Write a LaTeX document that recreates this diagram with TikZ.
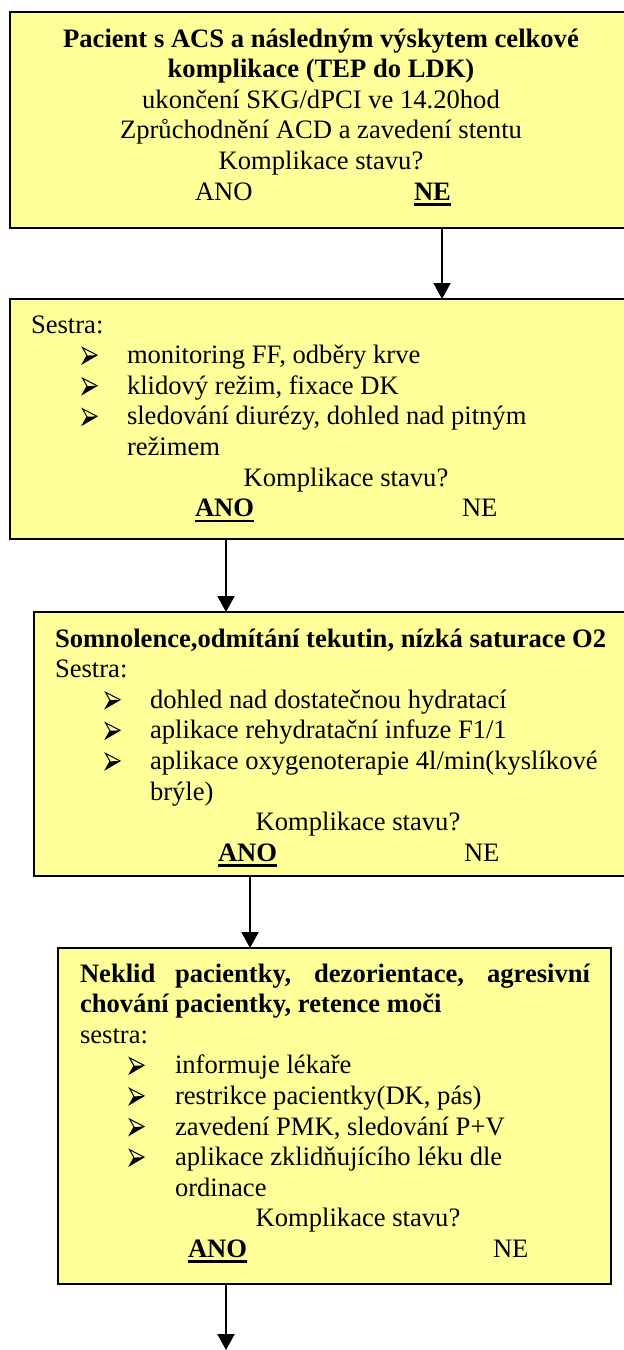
\documentclass[tikz,border=0pt]{standalone}
\usepackage{fontspec}
\setmainfont{Liberation Serif}
\usetikzlibrary{arrows.meta}

\definecolor{boxfill}{HTML}{FFFF99}

\newsavebox\ulbox
\newcommand\ulbold[1]{\sbox\ulbox{\bfseries #1}\rlap{\rule[-5.5pt]{\wd\ulbox}{2.6pt}}\usebox\ulbox}

\tikzset{
  flowbox/.style={draw=black, line width=2pt, fill=boxfill, rectangle,
    inner sep=0pt, outer sep=0pt},
  txt/.style={inner sep=0pt, outer sep=0pt, font=\fontsize{26.6}{30.6}\selectfont},
  lt/.style={txt, anchor=base west},
  ct/.style={txt, anchor=base},
  flowarrow/.style={line width=2pt, -{Triangle[width=17pt,length=16pt]}},
  % three-dimensional arrowhead bullet, placed at the left end of the baseline
  bulletmark/.pic={
    \fill[black] (5,-8) -- (15,-8.5) -- (0.5,0) -- cycle;
    \draw[black, line width=1pt, line join=miter] (0.5,-16) -- (15,-8.5) -- (0.5,0) -- (5,-8) -- cycle;
  }
}

\begin{document}
\begin{tikzpicture}[x=1pt, y=-1pt]
\useasboundingbox (0,0) rectangle (624,1350);
\clip (0,0) rectangle (624,1350);

% boxes
\node[flowbox, minimum width=630pt, minimum height=216pt] (b1) at (325,120) {};
\node[flowbox, minimum width=630pt, minimum height=240pt] (b2) at (325,419) {};
\node[flowbox, minimum width=606pt, minimum height=264pt] (b3) at (337,744) {};
\node[flowbox, minimum width=553pt, minimum height=336pt] (b4) at (334.5,1116) {};

% box 1
\node[ct] (t11) at (321,47) {\bfseries Pacient s ACS a následným výskytem celkové};
\node[ct] (t12) at (321,77.6) {\bfseries komplikace (TEP do LDK)};
\node[ct] (t13) at (321,108.2) {ukončení SKG/dPCI ve 14.20hod};
\node[ct] (t14) at (321,138.8) {Zprůchodnění ACD a zavedení stentu};
\node[ct] (t15) at (321,169.4) {Komplikace stavu?};
\node[lt] (t16) at (195,200) {ANO};
\node[lt] (t17) at (414,200) {\ulbold{NE}};

% box 2
\node[lt] (t21) at (31,333) {Sestra:};
\pic (p21) at (82,363.6) {bulletmark};
\node[lt] (t22) at (127,363.6) {monitoring FF, odběry krve};
\pic (p22) at (82,394.2) {bulletmark};
\node[lt] (t23) at (127,394.2) {klidový režim, fixace DK};
\pic (p23) at (82,424.8) {bulletmark};
\node[lt] (t24) at (127,424.8) {sledování diurézy, dohled nad pitným};
\node[lt] (t25) at (127,455.4) {režimem};
\node[ct] (t26) at (346,486) {Komplikace stavu?};
\node[lt] (t27) at (195,516.6) {\ulbold{ANO}};
\node[lt] (t28) at (462,516.6) {NE};

% box 3
\node[lt] (t31) at (55,647) {\bfseries Somnolence,odmítání tekutin, nízká saturace O2};
\node[lt] (t32) at (55,677.6) {Sestra:};
\pic (p31) at (105,708.2) {bulletmark};
\node[lt] (t33) at (150,708.2) {dohled nad dostatečnou hydratací};
\pic (p32) at (105,738.8) {bulletmark};
\node[lt] (t34) at (150,738.8) {aplikace rehydratační infuze F1/1};
\pic (p33) at (105,769.4) {bulletmark};
\node[lt] (t35) at (150,769.4) {aplikace oxygenoterapie 4l/min(kyslíkové};
\node[lt] (t36) at (150,800) {brýle)};
\node[ct] (t37) at (358,830.6) {Komplikace stavu?};
\node[lt] (t38) at (218,861.2) {\ulbold{ANO}};
\node[lt] (t39) at (464,861.2) {NE};

% box 4
\node[lt] (t41) at (80,982) {\makebox[510pt][s]{\bfseries Neklid pacientky, dezorientace, agresivní}};
\node[lt] (t42) at (80,1012.6) {\bfseries chování pacientky, retence moči};
\node[lt] (t43) at (80,1043.2) {sestra:};
\pic (p41) at (129,1073.8) {bulletmark};
\node[lt] (t44) at (175,1073.8) {informuje lékaře};
\pic (p42) at (129,1104.4) {bulletmark};
\node[lt] (t45) at (175,1104.4) {restrikce pacientky(DK, pás)};
\pic (p43) at (129,1135) {bulletmark};
\node[lt] (t46) at (175,1135) {zavedení PMK, sledování P+V};
\pic (p44) at (129,1165.6) {bulletmark};
\node[lt] (t47) at (175,1165.6) {aplikace zklidňujícího léku dle};
\node[lt] (t48) at (175,1196.2) {ordinace};
\node[ct] (t49) at (358,1226.8) {Komplikace stavu?};
\node[lt] (t410) at (188,1257.4) {\ulbold{ANO}};
\node[lt] (t411) at (493,1257.4) {NE};

% connectors
\coordinate (x1) at (442,0);
\coordinate (x2) at (226,0);
\coordinate (x3) at (250,0);
\coordinate (out) at (226,1350);
\draw[flowarrow] (b1.south -| x1) -- (b2.north -| x1);
\draw[flowarrow] (b2.south -| x2) -- (b3.north -| x2);
\draw[flowarrow] (b3.south -| x3) -- (b4.north -| x3);
\draw[flowarrow] (b4.south -| out) -- (out);
\end{tikzpicture}
\end{document}
